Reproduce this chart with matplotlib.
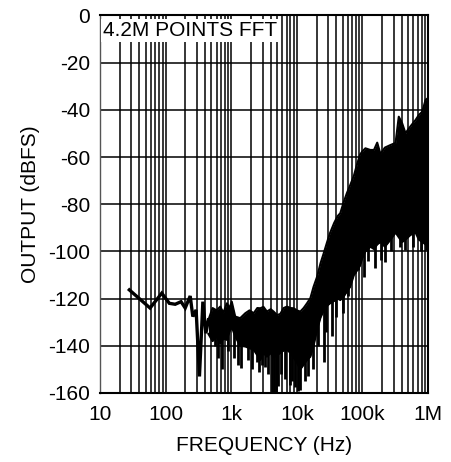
import matplotlib
matplotlib.use("Agg")
import matplotlib.pyplot as plt

plt.rcParams['font.family'] = ['Liberation Sans', 'DejaVu Sans']

# low-frequency part of the trace (Hz, dBFS)
lf_freq = [28, 58, 87.5, 114, 140, 172, 199, 237, 260, 292, 328, 370, 411, 450]
lf_db = [-116.3, -124, -117.7, -122, -122.4, -121.3, -124, -118.9, -127.6,
         -124.8, -153, -121.3, -134.7, -129]

# dense noise band: frequency, upper and lower envelope (dBFS)
band_freq = [450, 520, 600, 680, 760, 860, 940, 1020, 1150, 1370, 1640, 1900,
             2200, 2500, 2780, 3100, 3500, 4000, 4430, 5000, 5600, 6300, 7080,
             8000, 8940, 10000, 11300, 12700, 14300, 16100, 18000, 20400,
             23000, 25700, 29000, 32000, 37000, 42000, 46000, 52000, 58000,
             65000, 74000, 83000, 92000, 99000, 111000, 132000, 150000,
             168000, 188000, 220000, 268000, 320000, 358000, 403000, 453000,
             540000, 645000, 724000, 816000, 916000, 1000000]
band_top = [-129, -124, -125, -123.4, -126, -122, -124, -121.3, -127.6, -128.3,
            -126.2, -125, -126.2, -124, -124.1, -123.5, -125.5, -124.5, -125.5,
            -127, -126.5, -124, -123.4, -124, -124.1, -125, -125.5, -124, -122,
            -119.8, -115, -110.7, -105, -100.8, -96, -92.3, -88, -85, -83.8,
            -79, -75.3, -72, -68, -63, -59, -57.7, -56.3, -57, -57, -53.9,
            -58.7, -56, -54.9, -54, -42.9, -45.7, -49.9, -47, -44.3, -42.2,
            -40.8, -35.8, -35]
band_bot = [-135, -138, -136, -139, -137, -137.5, -134, -132, -136, -140,
            -140.3, -141, -141.7, -144, -146, -143, -144.6, -143, -145, -144,
            -143, -142, -141.7, -143, -145, -147, -150, -148, -146, -144.6,
            -140, -133, -128, -125, -123, -122, -121, -120, -120.6, -119,
            -117, -115, -110, -108, -106, -103, -100, -98, -99, -97, -96, -98,
            -95, -92, -94, -96, -95, -93, -92, -95, -96, -97, -98]

# downward spikes below the band
spike_freq = [560, 640, 721, 900, 1100, 1250, 1430, 1800, 2100, 2480, 2650,
              2950, 3300, 3700, 4200, 4430, 4900, 5200, 5700, 6600, 7900, 8400,
              9400, 10600, 11300, 13500, 15000, 17500, 21000, 25700, 28000,
              34700, 40000, 50000, 61000, 77000, 85000, 104000, 120000, 158000,
              190000, 223000, 270000, 380000, 453000, 600000, 780000, 916000]
spike_lo = [-140, -145, -150, -142, -145, -148, -149.5, -146, -150, -147, -151,
            -148, -148.8, -152, -160, -160, -160, -157, -152, -154, -156.6,
            -155, -157.4, -159, -158.7, -155, -153, -150, -140, -147, -134,
            -136, -128, -126, -119, -109, -108, -110.7, -104, -107, -103.6,
            -104.3, -100, -98, -99.4, -98, -100, -99.4]
spike_hi = [-130, -130, -130, -130, -130, -135, -135, -135, -135, -135, -138,
            -138, -138, -138, -140, -140, -140, -140, -140, -140, -138, -140,
            -140, -142, -145, -140, -138, -130, -125, -120, -118, -115, -110,
            -110, -100, -95, -95, -95, -95, -95, -95, -95, -90, -90, -90, -90,
            -90, -90]

xticks = [10, 100, 1e3, 1e4, 1e5, 1e6]
xticklabels = ['10', '100', '1k', '10k', '100k', '1M']
yticks = [0, -20, -40, -60, -80, -100, -120, -140, -160]
yticklabels = ['0', '-20', '-40', '-60', '-80', '-100', '-120', '-140', '-160']

fig = plt.figure(figsize=(4.52, 4.62), dpi=100)
ax = fig.add_axes([0.2212, 0.1494, 0.7258, 0.8171])

ax.set_xscale('log')
ax.set_xlim(10, 1e6)
ax.set_ylim(-160, 0)

# trace
ax.plot(lf_freq, lf_db, color='black', lw=2.4, solid_joinstyle='miter', zorder=3)
ax.fill_between(band_freq, band_bot, band_top, color='black', lw=0, zorder=3)
ax.plot(band_freq, band_top, color='black', lw=1.5, zorder=3)
ax.plot(band_freq, band_bot, color='black', lw=1.5, zorder=3)
ax.vlines(spike_freq, spike_lo, spike_hi, colors='black', lw=2, zorder=3)

# grid
ax.set_xticks(xticks)
ax.set_xticklabels(xticklabels)
ax.set_yticks(yticks)
ax.set_yticklabels(yticklabels)
ax.grid(True, which='both', axis='x', color='black', lw=1.1)
ax.grid(True, which='major', axis='y', color='black', lw=1.1)
ax.tick_params(which='both', length=0, labelsize=15, colors='black')
ax.tick_params(axis='x', pad=9)
ax.tick_params(axis='y', pad=7)
ax.set_axisbelow(True)

for side in ['top', 'right', 'bottom']:
    ax.spines[side].set_linewidth(1.5)
ax.spines['left'].set_linewidth(1.0)
ax.spines['left'].set_color('#555555')

ax.text(0.008, 0.985, '4.2M POINTS FFT', transform=ax.transAxes, fontsize=15,
        ha='left', va='top', zorder=4,
        bbox=dict(facecolor='white', edgecolor='none', pad=1.5))

ax.set_xlabel('FREQUENCY (Hz)', fontsize=15, labelpad=8)
ax.set_ylabel('OUTPUT (dBFS)', fontsize=15, labelpad=6)

fig.savefig('out.png', dpi=100)
